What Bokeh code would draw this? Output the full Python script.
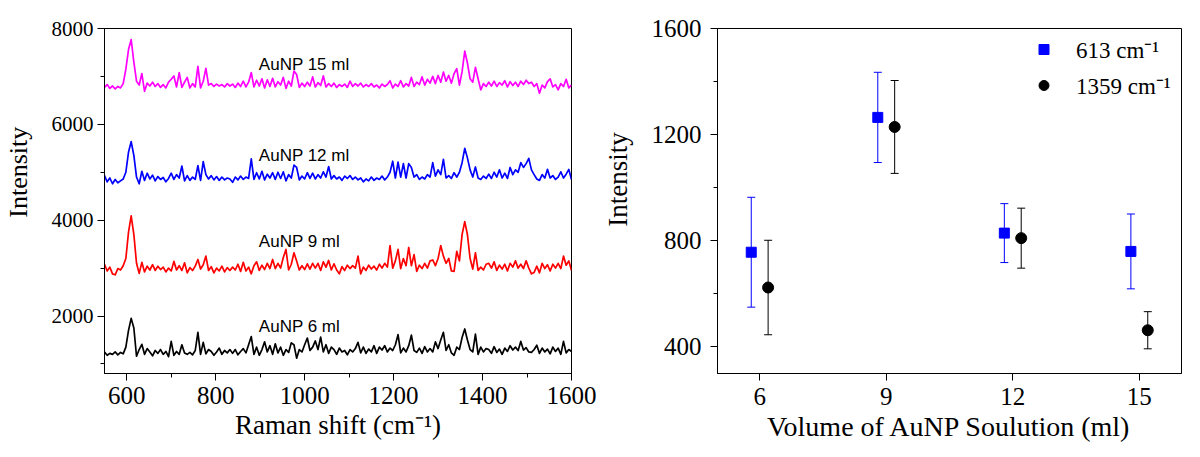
from bokeh.plotting import figure
from bokeh.models import (ColumnDataSource, Whisker, TeeHead, Legend, LegendItem, LinearAxis,
                          SingleIntervalTicker, FixedTicker, Range1d, CustomJSTickFormatter)
from bokeh.layouts import row
from bokeh.embed import file_html
from bokeh.resources import INLINE
from bokeh.core.properties import value

# ---------------- data: left panel (Raman spectra) ----------------
raman_shift = list(range(550, 1601, 6))  # cm-1 sampling axis (176 points)

spec_15ml = [
    6770, 6830, 6750, 6800, 6740, 6790, 6760, 6850, 7150, 7560, 7770, 7300, 6900, 6820, 7060, 6690,
    6860, 6800, 6880, 6790, 6850, 6770, 6830, 6760, 6880, 6940, 7010, 6780, 7080, 6770, 6880, 6980,
    6760, 6850, 6780, 7210, 6760, 6900, 7170, 6820, 6850, 6790, 6840, 6800, 6830, 6780, 6850, 6800,
    6840, 6770, 6860, 6790, 6900, 6780, 6880, 7080, 6780, 6920, 6800, 6950, 6760, 6930, 6790, 6960,
    6780, 6890, 6820, 6980, 6750, 6900, 6800, 7110, 7040, 6770, 6860, 6790, 6880, 6800, 6990, 6780,
    6870, 6810, 7010, 6780, 6850, 6790, 6860, 6770, 6830, 6790, 6840, 6770, 6900, 6790, 6850, 6800,
    6860, 6780, 6830, 6790, 6850, 6780, 6820, 6760, 6840, 6790, 6830, 6910, 6760, 6840, 6790, 6910,
    6780, 6850, 6800, 6980, 6790, 6880, 6830, 6990, 6820, 6940, 6860, 7000, 6850, 7020, 6880, 7090,
    6900, 7020, 6860, 7060, 7160, 6820, 7100, 7530, 7280, 6950, 6880, 7190, 6950, 6720, 6850, 6790,
    6880, 6800, 6900, 6790, 6870, 6820, 6910, 6780, 6890, 6810, 6880, 6790, 6900, 6830, 6920, 6850,
    6880, 6790, 6850, 6650, 6820, 6760, 6890, 6950, 6780, 6830, 6720, 6850, 6790, 6940, 6760, 6820,
]
spec_12ml = [
    4930, 4800, 4880, 4760, 4850, 4780, 4820, 4860, 5000, 5420, 5640, 5350, 4900, 4760, 5020, 4830,
    4980, 4860, 4940, 4820, 4910, 4850, 4890, 4800, 4870, 4980, 4850, 4950, 4880, 5130, 4820, 4930,
    4830, 4900, 4850, 5140, 4830, 5220, 4950, 4860, 4930, 4840, 4910, 4830, 4900, 4840, 4880, 4860,
    4790, 4900, 4840, 4920, 4850, 4900, 4870, 5280, 4850, 4990, 4860, 5020, 4840, 4960, 4880, 4990,
    4850, 5000, 4870, 5010, 4820, 4950, 4880, 5150, 5100, 4840, 4920, 4860, 4990, 4870, 4980, 4860,
    4950, 4880, 5010, 4900, 5120, 4860, 4930, 4860, 4900, 4830, 4920, 4870, 4930, 4850, 4900, 4840,
    4880, 4800, 4860, 4820, 4900, 4830, 4880, 4850, 4920, 4840, 4900, 5000, 5230, 4880, 5210, 4900,
    5180, 4880, 5180, 5100, 4900, 4950, 4850, 4900, 4860, 4950, 4900, 5200, 4920, 5050, 4950, 5270,
    4880, 4930, 4870, 4990, 4900, 5000, 5200, 5500, 5300, 5050, 4900, 5110, 4880, 4850, 4920, 4870,
    4960, 4870, 5000, 4900, 5050, 4880, 4980, 4870, 5100, 4950, 5050, 5000, 5200, 5100, 5180, 5290,
    5050, 4950, 4860, 4830, 4950, 4880, 5060, 4880, 4930, 4850, 4900, 5010, 4880, 4960, 5060, 4850,
]
spec_9ml = [
    3080, 2940, 3020, 2880, 2860, 2990, 2960, 3050, 3200, 3750, 4090, 3700, 3100, 2890, 3120, 2920,
    3040, 2960, 3070, 2950, 3040, 2970, 3020, 2920, 3000, 2940, 3140, 2960, 3050, 2950, 3110, 2900,
    3010, 2950, 3040, 3180, 2980, 3070, 3250, 2950, 3030, 2900, 3000, 2940, 3040, 2920, 3010, 2950,
    3020, 2960, 3080, 2930, 3120, 2940, 3020, 2880, 3050, 3130, 2950, 3060, 2970, 3100, 2990, 3180,
    2990, 3100, 3000, 3220, 3390, 2960, 3080, 3320, 3150, 2960, 3050, 2970, 3090, 2980, 3100, 3000,
    3100, 2950, 3130, 3020, 3160, 2960, 3090, 2960, 2880, 3030, 2950, 3060, 2990, 3050, 3000, 3250,
    2880, 3020, 2950, 3060, 2980, 3040, 2960, 3080, 3000, 3100, 3020, 3470, 3000, 3150, 3390, 2990,
    3200, 3050, 3430, 3050, 3280, 2930, 3060, 2990, 3100, 3000, 3150, 3170, 3050, 3200, 3470, 3250,
    3100, 3200, 2940, 2930, 3350, 3150, 3700, 3970, 3700, 3200, 2980, 3320, 2950, 3020, 2960, 3080,
    3100, 3000, 3130, 2950, 3060, 2980, 3080, 2940, 3100, 3020, 3150, 3000, 3080, 2990, 3150, 3000,
    2880, 2910, 3040, 2900, 3100, 2990, 3070, 2940, 3080, 3000, 3100, 2990, 3250, 3060, 3150, 2950,
]
spec_6ml = [
    1250, 1180, 1220, 1200, 1250, 1190, 1240, 1210, 1350, 1700, 1950, 1750, 1160, 1300, 1410, 1200,
    1320, 1250, 1170, 1280, 1220, 1300, 1200, 1260, 1150, 1470, 1180, 1260, 1200, 1400, 1230, 1200,
    1240, 1190, 1280, 1660, 1200, 1450, 1210, 1300, 1260, 1180, 1250, 1330, 1200, 1280, 1230, 1300,
    1220, 1300, 1190, 1260, 1320, 1230, 1400, 1570, 1200, 1350, 1180, 1300, 1460, 1250, 1380, 1200,
    1420, 1230, 1350, 1180, 1300, 1240, 1440, 1400, 1120, 1300, 1250, 1400, 1540, 1280, 1350, 1480,
    1300, 1560, 1250, 1400, 1220, 1350, 1300, 1200, 1330, 1250, 1280, 1190, 1300, 1250, 1320, 1450,
    1230, 1350, 1220, 1310, 1250, 1380, 1220, 1350, 1290, 1380, 1250, 1330, 1280, 1400, 1610, 1230,
    1330, 1250, 1380, 1600, 1280, 1240, 1330, 1220, 1360, 1250, 1320, 1250, 1460, 1320, 1500, 1660,
    1280, 1400, 1230, 1180, 1350, 1300, 1550, 1730, 1500, 1300, 1250, 1620, 1200, 1350, 1250, 1320,
    1300, 1220, 1360, 1240, 1310, 1200, 1330, 1260, 1380, 1290, 1350, 1280, 1470, 1290, 1340, 1250,
    1240, 1300, 1390, 1220, 1330, 1250, 1310, 1210, 1350, 1260, 1330, 1200, 1470, 1230, 1300, 1260,
]
series_names = ["AuNP 15 ml", "AuNP 12 ml", "AuNP 9 ml", "AuNP 6 ml"]

# ---------------- data: right panel ----------------
volumes = [6, 9, 12, 15]
int_613 = [757, 1265, 829, 760]
err_613 = [207, 170, 111, 141]
int_1359 = [624, 1229, 810, 463]
err_1359 = [178, 175, 113, 70]

# ---------------- styling helpers ----------------
SERIF = "Liberation Serif"
SANS = "Liberation Sans"


def style_axis(ax, label_size, tick_out=7, minor_out=4, standoff=4):
    ax.axis_line_color = "black"
    ax.major_tick_line_color = "black"
    ax.minor_tick_line_color = "black"
    ax.major_tick_in = 0
    ax.major_tick_out = tick_out
    ax.minor_tick_in = 0
    ax.minor_tick_out = minor_out
    ax.major_label_text_font = SERIF
    ax.major_label_text_font_size = label_size
    ax.major_label_text_color = "black"
    ax.major_label_standoff = standoff
    ax.axis_label_text_font = SERIF
    ax.axis_label_text_font_style = "normal"
    ax.axis_label_text_color = "black"


def title_axis(text, pos, size, standoff):
    # tick-less axis whose single (rotated) tick label carries the vertical axis title
    return LinearAxis(ticker=FixedTicker(ticks=[pos], minor_ticks=[]),
                      formatter=CustomJSTickFormatter(args=dict(label=text), code="return label;"),
                      major_label_orientation="vertical",
                      axis_line_color=None, major_tick_line_color=None,
                      minor_tick_line_color=None, major_tick_in=0, major_tick_out=0,
                      minor_tick_in=0, minor_tick_out=0, major_label_standoff=standoff,
                      major_label_text_font=SERIF, major_label_text_font_size=size,
                      major_label_text_color="black")


# ---------------- left figure ----------------
p1 = figure(width=600, height=456, output_backend="svg", toolbar_location=None,
            x_range=Range1d(550, 1600), y_range=Range1d(800, 8000),
            min_border_left=101, min_border_right=29, min_border_top=28, min_border_bottom=83)
p1.xgrid.grid_line_color = None
p1.ygrid.grid_line_color = None
p1.outline_line_color = "black"
p1.outline_line_alpha = 1

p1.xaxis.ticker = SingleIntervalTicker(interval=200, num_minor_ticks=2)
p1.yaxis.ticker = SingleIntervalTicker(interval=2000, num_minor_ticks=2)
style_axis(p1.xaxis[0], "25px", standoff=6)
style_axis(p1.yaxis[0], "21px", standoff=4)
p1.xaxis.axis_label = "Raman shift (cm\u207b\u00b9)"
p1.xaxis.axis_label_text_font_size = "27px"
p1.xaxis.axis_label_standoff = 3
p1.add_layout(title_axis("Intensity", 5000, "26px", 16), "left")

spectra = [spec_15ml, spec_12ml, spec_9ml, spec_6ml]
spec_colors = ["#FF00FF", "#0000FF", "#FF0000", "#000000"]
for ys, c in zip(spectra, spec_colors):
    p1.line(raman_shift, ys, line_color=c, line_width=1.7, line_join="round")

label_pos_x = [897, 897, 897, 897]
label_pos_y = [7253, 5349, 3550, 1787]
p1.text(x=label_pos_x, y=label_pos_y, text=series_names,
        text_font=value(SANS), text_font_size="17px", text_color="black",
        text_align="left", text_baseline="alphabetic")

# ---------------- right figure ----------------
p2 = figure(width=599, height=456, output_backend="svg", toolbar_location=None,
            x_range=Range1d(5, 16), y_range=Range1d(300, 1600),
            min_border_left=112, min_border_right=18, min_border_top=28, min_border_bottom=83)
p2.xgrid.grid_line_color = None
p2.ygrid.grid_line_color = None
p2.outline_line_color = "black"
p2.outline_line_alpha = 1

p2.xaxis.ticker = FixedTicker(ticks=volumes)
p2.yaxis.ticker = SingleIntervalTicker(interval=400, num_minor_ticks=2)
style_axis(p2.xaxis[0], "25px", standoff=7)
style_axis(p2.yaxis[0], "25px", standoff=9)
p2.xaxis.axis_label = "Volume of AuNP Soulution (ml)"
p2.xaxis.axis_label_text_font_size = "28px"
p2.xaxis.axis_label_standoff = 3
p2.add_layout(title_axis("Intensity", 1031, "27px", 15), "left")

pos_613 = [v - 0.2 for v in volumes]
pos_1359 = [v + 0.2 for v in volumes]
src613 = ColumnDataSource(dict(x=pos_613, y=int_613,
                               upper=[a + b for a, b in zip(int_613, err_613)],
                               lower=[a - b for a, b in zip(int_613, err_613)]))
src1359 = ColumnDataSource(dict(x=pos_1359, y=int_1359,
                                upper=[a + b for a, b in zip(int_1359, err_1359)],
                                lower=[a - b for a, b in zip(int_1359, err_1359)]))

for src, col in [(src613, "#0000FF"), (src1359, "#000000")]:
    w = Whisker(base="x", upper="upper", lower="lower", source=src, level="underlay",
                line_color=col, line_width=1,
                upper_head=TeeHead(size=8, line_color=col, line_width=1),
                lower_head=TeeHead(size=8, line_color=col, line_width=1))
    p2.add_layout(w)

r613 = p2.scatter("x", "y", source=src613, marker="square", size=10,
                  fill_color="#0000FF", line_color="#0000FF")
r1359 = p2.scatter("x", "y", source=src1359, marker="circle", size=11,
                   fill_color="#000000", line_color="#000000")

legend = Legend(items=[LegendItem(label="613 cm\u207b\u00b9", renderers=[r613]),
                       LegendItem(label="1359 cm\u207b\u00b9", renderers=[r1359])],
                location=(314, 272), padding=0, margin=0, spacing=4,
                glyph_width=25, glyph_height=30, label_height=30, label_standoff=20,
                border_line_color=None, background_fill_alpha=0,
                label_text_font=SERIF, label_text_font_size="23px", label_text_color="black")
p2.add_layout(legend)

layout = row(p1, p2)
open("out.html", "w").write(file_html(layout, INLINE))
